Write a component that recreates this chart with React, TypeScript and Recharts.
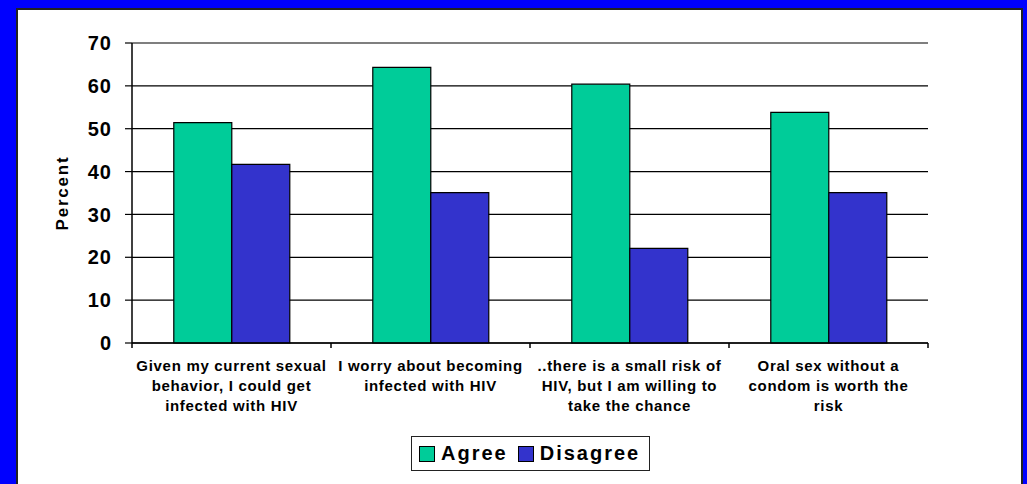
import { BarChart, Bar, XAxis, YAxis, CartesianGrid, Legend, Label } from 'recharts'

// survey statements (x categories)
const categories = [
  'Given my current sexual behavior, I could get infected with HIV',
  'I worry about becoming infected with HIV',
  '..there is a small risk of HIV, but I am willing to take the chance',
  'Oral sex without a condom is worth the risk',
]

// how each category label wraps under the axis
const categoryLines = [
  ['Given my current sexual', 'behavior, I could get', 'infected with HIV'],
  ['I worry about becoming', 'infected with HIV'],
  ['..there is a small risk of', 'HIV, but I am willing to', 'take the chance'],
  ['Oral sex without a', 'condom is worth the', 'risk'],
]

const agree = [51.4, 64.3, 60.4, 53.8]
const disagree = [41.7, 35.1, 22.1, 35.1]

const yTicks = [0, 10, 20, 30, 40, 50, 60, 70]

const seriesNames = ['Agree', 'Disagree']
const seriesColors = ['#00CC99', '#3333CC']

const FONT = '"Liberation Sans", Arial, Helvetica, sans-serif'

const data = categories.map((name, i) => ({
  name,
  agree: agree[i],
  disagree: disagree[i],
}))

function CategoryTick(props: any) {
  const { x, y, payload, index } = props
  const lines = categoryLines[payload.index ?? index] || []
  const half = payload.offset || 0
  const isLast = (payload.index ?? index) === categories.length - 1
  return (
    <g>
      <line x1={x - half} x2={x - half} y1={y} y2={y + 5} stroke="#000" strokeWidth={1.5} />
      {isLast && <line x1={x + half} x2={x + half} y1={y} y2={y + 5} stroke="#000" strokeWidth={1.5} />}
      {lines.map((ln, k) => (
        <text
          key={k}
          x={x}
          y={y + 27.5 + k * 20.3}
          textAnchor="middle"
          fill="#000"
          fontSize={15}
          fontWeight="bold"
          fontFamily={FONT}
          letterSpacing={0.7}
        >
          {ln}
        </text>
      ))}
    </g>
  )
}

function ValueTick(props: any) {
  const { x, y, payload } = props
  return (
    <text
      x={x}
      y={y}
      dy="0.36em"
      textAnchor="end"
      fill="#000"
      fontSize={20}
      fontWeight="bold"
      fontFamily={FONT}
      letterSpacing={1}
    >
      {payload.value}
    </text>
  )
}

function LegendBox() {
  return (
    <div
      style={{
        display: 'flex',
        alignItems: 'center',
        border: '1.5px solid #222',
        background: '#fff',
        height: 35,
        padding: '0 9px 0 7px',
        boxSizing: 'border-box',
        fontFamily: FONT,
        fontWeight: 'bold',
        fontSize: 20,
        letterSpacing: 2,
        color: '#000',
      }}
    >
      {seriesNames.map((s, i) => (
        <div key={s} style={{ display: 'flex', alignItems: 'center', marginRight: i === 0 ? 10 : 0 }}>
          <span
            style={{
              display: 'inline-block',
              width: 14,
              height: 14,
              background: seriesColors[i],
              border: '1px solid #000',
              marginRight: 6,
            }}
          />
          <span>{s}</span>
        </div>
      ))}
    </div>
  )
}

export default function App() {
  return (
    <div style={{ position: 'absolute', left: 0, top: 0, width: 1027, height: 484, background: '#0000FF', overflow: 'hidden' }}>
      <div
        style={{
          position: 'absolute',
          left: 16,
          top: 8,
          width: 1007,
          height: 490,
          background: '#fff',
          border: '2px solid #222',
          boxSizing: 'border-box',
        }}
      />
      <div style={{ position: 'absolute', left: 0, top: 0 }}>
        <BarChart
          width={1027}
          height={484}
          data={data}
          margin={{ top: 43, right: 99, bottom: 0, left: 0 }}
          barCategoryGap="21%"
          barGap={0}
        >
          <CartesianGrid vertical={false} stroke="#000" strokeWidth={1.2} />
          <XAxis
            dataKey="name"
            height={141}
            tickLine={false}
            tickSize={0}
            tickMargin={0}
            axisLine={{ stroke: '#000', strokeWidth: 1.5 }}
            tick={<CategoryTick />}
            interval={0}
          />
          <YAxis
            width={132}
            domain={[0, 70]}
            ticks={yTicks}
            interval={0}
            tickSize={7}
            tickMargin={13}
            tickLine={{ stroke: '#000', strokeWidth: 1.2 }}
            axisLine={{ stroke: '#000', strokeWidth: 1.5 }}
            tick={<ValueTick />}
          >
            <Label
              content={({ viewBox }: any) => {
                const cy = viewBox.y + viewBox.height / 2
                return (
                  <text
                    x={62}
                    y={cy}
                    transform={`rotate(-90, 62, ${cy})`}
                    textAnchor="middle"
                    dominantBaseline="central"
                    fill="#000"
                    fontSize={17}
                    fontWeight="bold"
                    fontFamily={FONT}
                    letterSpacing={1.8}
                  >
                    Percent
                  </text>
                )
              }}
            />
          </YAxis>
          <Legend
            layout="vertical"
            align="center"
            verticalAlign="middle"
            wrapperStyle={{ left: 411, top: 436, width: 'auto', height: 'auto' }}
            content={<LegendBox />}
          />
          <Bar dataKey="agree" name={seriesNames[0]} fill={seriesColors[0]} stroke="#000" strokeWidth={1.2} isAnimationActive={false} />
          <Bar dataKey="disagree" name={seriesNames[1]} fill={seriesColors[1]} stroke="#000" strokeWidth={1.2} isAnimationActive={false} />
        </BarChart>
      </div>
    </div>
  )
}
